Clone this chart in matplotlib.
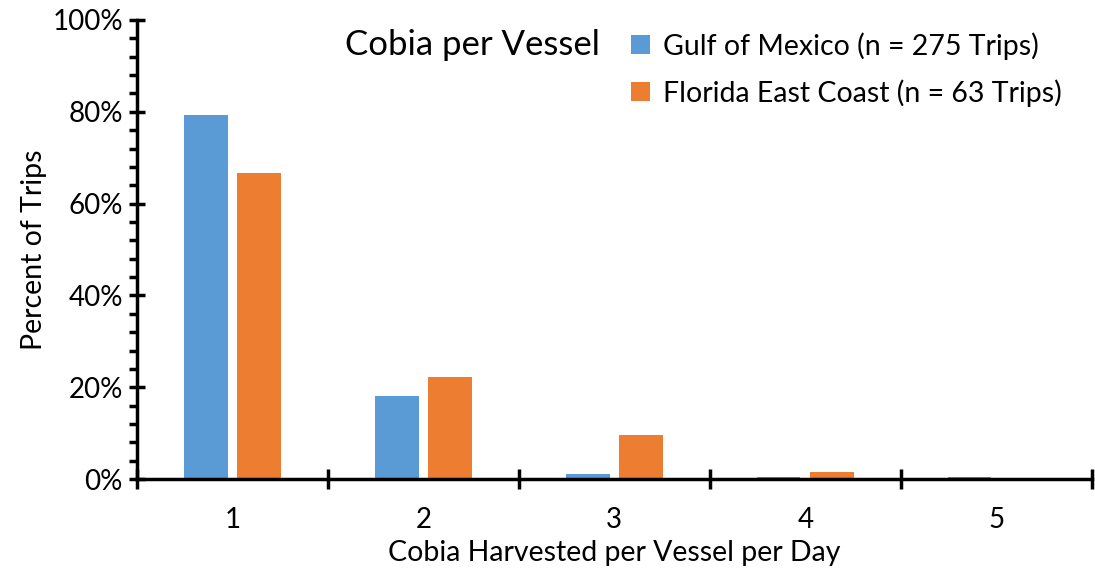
import matplotlib.pyplot as plt
import numpy as np
from matplotlib.ticker import MultipleLocator, PercentFormatter

plt.rcParams['font.family'] = ['Lato', 'DejaVu Sans']

# Cobia harvested per vessel per day
categories = ['1', '2', '3', '4', '5']
gulf = [79.3, 18.2, 1.1, 0.4, 0.4]
florida = [66.7, 22.2, 9.5, 1.6, 0.0]
gulf_label = 'Gulf of Mexico (n = 275 Trips)'
florida_label = 'Florida East Coast (n = 63 Trips)'

x = np.arange(1, len(categories) + 1)
width = 0.23

fig = plt.figure(figsize=(10.95, 5.71), dpi=100)
ax = fig.add_axes([0.125, 0.161, 0.872, 0.804])

ax.bar(x - 0.14, gulf, width, color='#5B9BD5', label=gulf_label)
ax.bar(x + 0.14, florida, width, color='#ED7D31', label=florida_label)

ax.set_xlim(0.5, 5.5)
ax.set_ylim(0, 100)

# category labels centred, ticks on the category boundaries
ax.set_xticks(x)
ax.set_xticklabels(categories)
ax.tick_params(axis='x', which='major', length=0, labelsize=20, pad=20)
ax.set_xticks(np.arange(0.5, 6.0, 1.0), minor=True)
ax.tick_params(axis='x', which='minor', length=14, width=2.5, direction='inout')

ax.yaxis.set_major_locator(MultipleLocator(20))
ax.yaxis.set_minor_locator(MultipleLocator(4))
ax.yaxis.set_major_formatter(PercentFormatter(decimals=0))
ax.tick_params(axis='y', which='major', length=12, width=2.5, direction='inout', labelsize=20, pad=4)
ax.tick_params(axis='y', which='minor', length=6, width=2.5, direction='out')

for side in ['top', 'right']:
    ax.spines[side].set_visible(False)
for side in ['left', 'bottom']:
    ax.spines[side].set_linewidth(2.5)

ax.set_xlabel('Cobia Harvested per Vessel per Day', fontsize=20.5, labelpad=5)
ax.set_ylabel('Percent of Trips', fontsize=20.5, labelpad=4)

ax.text(0.218, 0.9455, 'Cobia per Vessel', transform=ax.transAxes, fontsize=25, va='center')
ax.legend(loc='upper left', bbox_to_anchor=(0.518, 0.974), frameon=False, fontsize=20.5,
          borderaxespad=0, borderpad=0,
          handlelength=0.65, handleheight=0.65, handletextpad=0.45, labelspacing=0.68)

fig.savefig('out.png', dpi=100)
